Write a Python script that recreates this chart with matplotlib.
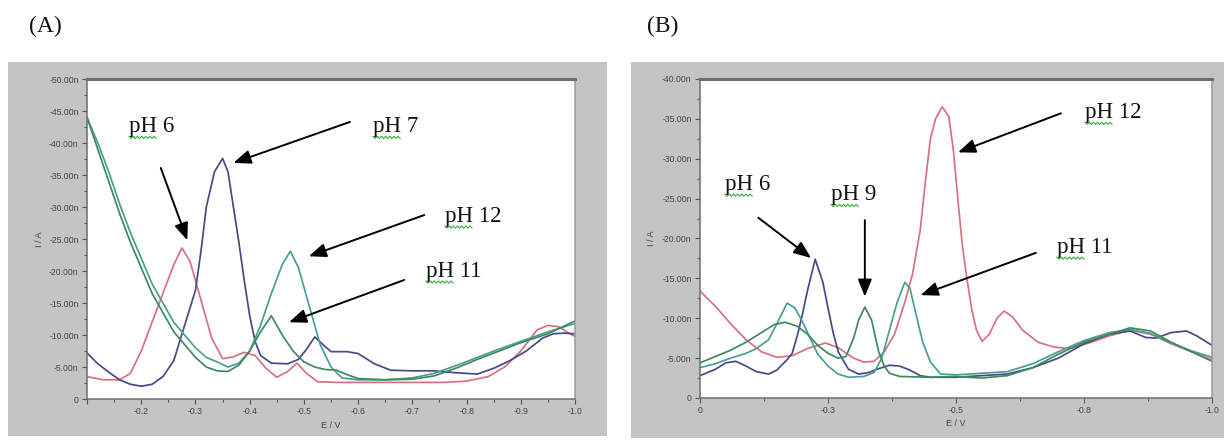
import numpy as np
import matplotlib
matplotlib.use("Agg")
import matplotlib.pyplot as plt
import matplotlib.transforms as mtransforms
from matplotlib.patches import Rectangle
from matplotlib.ticker import FixedLocator, MultipleLocator, FuncFormatter

# =============================================
# DATA  (E in V, current magnitude in nA)
# =============================================
# --- panel (A)
a_e_ph6 = [-0.10, -0.13, -0.16, -0.18, -0.20, -0.22, -0.24, -0.26, -0.275, -0.29, -0.31, -0.33,
           -0.35, -0.37, -0.39, -0.41, -0.43, -0.45, -0.47, -0.487, -0.505, -0.525, -0.56, -0.60,
           -0.65, -0.70, -0.76, -0.80, -0.84, -0.87, -0.90, -0.93, -0.95, -0.97, -0.99, -1.00]
a_i_ph6 = [3.5, 3.0, 3.0, 4.0, 7.5, 12.0, 16.5, 21.0, 23.6, 21.5, 15.5, 9.5,
           6.3, 6.6, 7.3, 6.8, 4.8, 3.4, 4.3, 5.6, 4.0, 2.7, 2.6, 2.6,
           2.6, 2.6, 2.6, 2.8, 3.5, 5.0, 7.5, 10.8, 11.5, 11.3, 10.2, 9.8]

a_e_ph7 = [-0.10, -0.12, -0.14, -0.16, -0.18, -0.20, -0.22, -0.24, -0.26, -0.28, -0.30, -0.31,
           -0.32, -0.335, -0.35, -0.36, -0.37, -0.38, -0.39, -0.40, -0.41, -0.42, -0.44, -0.47,
           -0.49, -0.505, -0.52, -0.535, -0.55, -0.58, -0.60, -0.63, -0.66, -0.70, -0.74, -0.78,
           -0.82, -0.85, -0.88, -0.91, -0.94, -0.96, -0.98, -1.00]
a_i_ph7 = [7.2, 5.5, 4.2, 3.0, 2.3, 2.0, 2.3, 3.5, 6.0, 11.5, 17.0, 23.0,
           30.0, 35.5, 37.6, 35.5, 30.0, 24.5, 18.5, 13.0, 9.0, 6.8, 5.6, 5.5,
           6.2, 7.8, 9.7, 8.5, 7.4, 7.4, 7.1, 5.5, 4.5, 4.4, 4.4, 4.1,
           3.9, 4.8, 6.0, 7.5, 9.5, 10.2, 10.3, 10.2]

a_e_ph12 = [-0.10, -0.12, -0.14, -0.16, -0.18, -0.20, -0.22, -0.24, -0.26, -0.28, -0.30, -0.32,
            -0.34, -0.36, -0.38, -0.40, -0.42, -0.44, -0.46, -0.475, -0.49, -0.51, -0.53, -0.55,
            -0.57, -0.60, -0.65, -0.70, -0.74, -0.78, -0.82, -0.86, -0.90, -0.95, -1.00]
a_i_ph12 = [44.0, 40.0, 35.5, 30.5, 26.0, 22.0, 18.0, 15.0, 12.0, 10.0, 8.0, 6.5,
            5.8, 5.0, 5.6, 7.5, 11.5, 16.5, 21.0, 23.1, 20.5, 14.5, 8.5, 5.0,
            3.3, 3.0, 3.0, 3.3, 4.0, 5.2, 6.5, 7.8, 9.0, 10.5, 11.8]

a_e_ph11 = [-0.10, -0.12, -0.14, -0.16, -0.18, -0.20, -0.22, -0.24, -0.26, -0.28, -0.30, -0.32,
            -0.34, -0.36, -0.38, -0.40, -0.42, -0.44, -0.46, -0.48, -0.50, -0.52, -0.54, -0.56,
            -0.58, -0.60, -0.65, -0.70, -0.74, -0.78, -0.82, -0.86, -0.90, -0.95, -1.00]
a_i_ph11 = [44.0, 39.0, 34.0, 29.0, 24.5, 20.5, 16.5, 13.5, 10.5, 8.5, 6.5, 5.0,
            4.4, 4.3, 5.3, 7.5, 10.5, 13.0, 10.0, 7.5, 5.8, 5.0, 4.6, 4.5,
            3.8, 3.2, 3.0, 3.1, 3.6, 4.8, 6.2, 7.5, 8.8, 10.2, 12.2]

# --- panel (B)
b_e_ph12 = [0.0, -0.03, -0.06, -0.09, -0.12, -0.15, -0.18, -0.21, -0.245, -0.27, -0.30, -0.32,
            -0.34, -0.36, -0.38, -0.40, -0.415, -0.43, -0.44, -0.45, -0.46, -0.473, -0.486, -0.495,
            -0.505, -0.512, -0.52, -0.531, -0.54, -0.551, -0.565, -0.58, -0.594, -0.61, -0.63, -0.66,
            -0.69, -0.72, -0.76, -0.80, -0.84, -0.88, -0.92, -0.96, -1.00]
b_i_ph12 = [13.4, 11.5, 9.3, 7.3, 5.8, 5.1, 5.3, 6.2, 6.9, 6.3, 5.0, 4.5,
            4.6, 5.8, 8.0, 12.0, 15.5, 21.0, 27.0, 32.5, 35.0, 36.5, 35.3, 31.0,
            24.0, 19.4, 15.5, 11.0, 8.5, 7.1, 8.0, 10.0, 10.9, 10.2, 8.5, 7.0,
            6.4, 6.2, 6.9, 7.8, 8.5, 8.0, 6.8, 5.8, 4.8]

b_e_ph6 = [0.0, -0.03, -0.05, -0.07, -0.09, -0.11, -0.134, -0.15, -0.17, -0.18, -0.19, -0.20,
           -0.21, -0.225, -0.24, -0.25, -0.26, -0.27, -0.29, -0.31, -0.33, -0.35, -0.37, -0.39,
           -0.41, -0.43, -0.45, -0.50, -0.55, -0.60, -0.65, -0.70, -0.75, -0.80, -0.84, -0.87,
           -0.89, -0.92, -0.95, -0.97, -1.00]
b_i_ph6 = [2.8, 3.6, 4.4, 4.6, 4.0, 3.3, 3.0, 3.5, 4.8, 5.6, 7.8, 10.5,
           13.5, 17.4, 14.5, 11.3, 8.2, 5.8, 3.6, 3.0, 3.2, 3.7, 4.1, 4.0,
           3.5, 2.8, 2.6, 2.6, 2.8, 3.0, 3.8, 5.0, 6.8, 8.0, 8.4, 7.6,
           7.5, 8.2, 8.4, 7.8, 6.6]

b_e_ph11 = [0.0, -0.03, -0.06, -0.09, -0.11, -0.134, -0.15, -0.17, -0.185, -0.20, -0.215, -0.23,
            -0.25, -0.27, -0.29, -0.32, -0.34, -0.355, -0.37, -0.385, -0.40, -0.41, -0.42, -0.435,
            -0.45, -0.47, -0.50, -0.55, -0.60, -0.65, -0.70, -0.75, -0.80, -0.84, -0.88, -0.92,
            -0.96, -1.00]
b_i_ph11 = [3.8, 4.3, 5.0, 5.6, 6.2, 7.3, 9.3, 11.9, 11.3, 9.6, 7.5, 5.5,
            4.0, 3.0, 2.6, 2.7, 3.2, 5.0, 8.5, 12.0, 14.5, 13.8, 11.0, 7.0,
            4.5, 3.0, 2.9, 3.1, 3.3, 4.3, 5.8, 7.2, 8.2, 8.6, 8.1, 6.9,
            5.9, 5.1]

b_e_ph9 = [0.0, -0.03, -0.06, -0.09, -0.12, -0.145, -0.166, -0.19, -0.21, -0.23, -0.25, -0.27,
           -0.285, -0.30, -0.31, -0.322, -0.335, -0.349, -0.36, -0.37, -0.39, -0.45, -0.50, -0.55,
           -0.60, -0.65, -0.70, -0.75, -0.80, -0.84, -0.88, -0.92, -0.96, -1.00]
b_i_ph9 = [4.4, 5.2, 6.0, 7.0, 8.2, 9.2, 9.5, 9.0, 8.0, 6.6, 5.6, 5.0,
           5.2, 7.5, 9.8, 11.4, 9.8, 5.8, 4.0, 3.1, 2.7, 2.6, 2.7, 2.5,
           2.8, 3.8, 5.5, 7.0, 8.0, 8.8, 8.4, 7.0, 5.8, 4.6]

# tick labels
a_yticks = [0, -5, -10, -15, -20, -25, -30, -35, -40, -45, -50]
b_yticks = [0, -5, -10, -15, -20, -25, -30, -35, -40]
a_xticks = [-0.1, -0.2, -0.3, -0.4, -0.5, -0.6, -0.7, -0.8, -0.9, -1.0]
a_xlabels = ["", "-0.2", "-0.3", "-0.4", "-0.5", "-0.6", "-0.7", "-0.8", "-0.9", "-1.0"]
b_xticks = [0.0, -0.25, -0.5, -0.75, -1.0]
b_xlabels = ["0", "-0.3", "-0.5", "-0.8", "-1.0"]

# annotation labels
a_labels = ["pH 6", "pH 7", "pH 12", "pH 11"]
b_labels = ["pH 6", "pH 9", "pH 12", "pH 11"]

# =============================================
# STYLE
# =============================================
RED = "#d9707f"
NAVY = "#474a86"
TEAL = "#4a9e98"
GREEN = "#3e8a5e"
GRAY_BG = "#c4c4c4"
TICK_C = "#555555"
SERIF = ["Liberation Serif", "DejaVu Serif"]

fig = plt.figure(figsize=(12.24, 4.43), dpi=100)

# gray frames behind each plot
fig.add_artist(Rectangle((0.0065, 0.0158), 0.4894, 0.8442, transform=fig.transFigure,
                         facecolor=GRAY_BG, edgecolor="none", zorder=0))
fig.add_artist(Rectangle((0.5155, 0.0113), 0.4845, 0.8488, transform=fig.transFigure,
                         facecolor=GRAY_BG, edgecolor="none", zorder=0))

ax_a = fig.add_axes([0.0711, 0.0993, 0.3987, 0.7223])
ax_b = fig.add_axes([0.5719, 0.1016, 0.4183, 0.7201])


def yfmt(v, pos):
    if abs(v) < 1e-9:
        return "0"
    return f"{v:.2f}n"


def style_axes(ax, yticks, xticks, xlabels, xminor):
    ax.set_facecolor("white")
    ax.set_zorder(2)
    ax.yaxis.set_major_locator(FixedLocator(yticks))
    ax.yaxis.set_minor_locator(MultipleLocator(2.5))
    ax.yaxis.set_major_formatter(FuncFormatter(yfmt))
    ax.set_xticks(xticks)
    ax.set_xticklabels(xlabels)
    ax.xaxis.set_minor_locator(MultipleLocator(xminor))
    ax.tick_params(which="both", direction="out", colors=TICK_C, labelsize=6.2,
                   width=0.8)
    ax.tick_params(which="major", length=3.5, pad=2.5)
    ax.tick_params(which="minor", length=2)
    for lab in ax.get_xticklabels() + ax.get_yticklabels():
        lab.set_family("Liberation Sans")
        lab.set_color("#444444")
    for name, sp in ax.spines.items():
        sp.set_color("#6e6e6e")
        sp.set_linewidth(1.1)
    ax.spines["top"].set_linewidth(2.2)
    ax.spines["right"].set_color("#9a9a9a")
    ax.set_xlabel("E / V", fontsize=6.5, color="#444444", family="Liberation Sans", labelpad=3)
    ax.set_ylabel("I / A", fontsize=6.5, color="#444444", family="Liberation Sans", labelpad=4)


def squiggle(ax, x, y, width_pt=20.0):
    # green spell-check wave under "pH"
    xs = np.arange(0, width_pt + 0.01, 1.5)
    ys = np.where(np.arange(len(xs)) % 2 == 0, -3.0, -4.6)
    t = (mtransforms.Affine2D().scale(fig.dpi / 72.0)
         + mtransforms.ScaledTranslation(x, y, ax.transData))
    ax.plot(xs, ys, color="#3cab3c", lw=0.8, transform=t, clip_on=False, zorder=6)


def label(ax, text, x, y):
    ax.text(x, y, text, fontsize=16.5, family=SERIF, va="baseline", ha="left",
            color="#111111", zorder=6, clip_on=False)
    squiggle(ax, x, y)


def arrow(ax, tail, head):
    ax.annotate("", xy=head, xytext=tail, zorder=6,
                arrowprops=dict(arrowstyle="-|>,head_length=0.7,head_width=0.28",
                                mutation_scale=15, lw=1.4, color="black",
                                shrinkA=0, shrinkB=0))


# =============================================
# PANEL (A)
# =============================================
lw = 1.25
ax_a.plot(a_e_ph6, -np.array(a_i_ph6), color=RED, lw=lw)
ax_a.plot(a_e_ph7, -np.array(a_i_ph7), color=NAVY, lw=lw)
ax_a.plot(a_e_ph12, -np.array(a_i_ph12), color=TEAL, lw=lw)
ax_a.plot(a_e_ph11, -np.array(a_i_ph11), color=GREEN, lw=lw)
ax_a.set_xlim(-0.1, -1.0)
ax_a.set_ylim(0, -50)
style_axes(ax_a, a_yticks, a_xticks, a_xlabels, 0.05)

label(ax_a, a_labels[0], -0.1775, -41.7)
label(ax_a, a_labels[1], -0.6275, -41.7)
label(ax_a, a_labels[2], -0.760, -27.7)
label(ax_a, a_labels[3], -0.725, -19.1)
arrow(ax_a, (-0.236, -36.1), (-0.285, -24.8))
arrow(ax_a, (-0.585, -43.3), (-0.370, -36.9))
arrow(ax_a, (-0.722, -28.75), (-0.509, -22.3))
arrow(ax_a, (-0.685, -18.6), (-0.4725, -12.0))

# =============================================
# PANEL (B)
# =============================================
ax_b.plot(b_e_ph12, -np.array(b_i_ph12), color=RED, lw=lw)
ax_b.plot(b_e_ph6, -np.array(b_i_ph6), color=NAVY, lw=lw)
ax_b.plot(b_e_ph11, -np.array(b_i_ph11), color=TEAL, lw=lw)
ax_b.plot(b_e_ph9, -np.array(b_i_ph9), color=GREEN, lw=lw)
ax_b.set_xlim(0.0, -1.0)
ax_b.set_ylim(0, -40)
style_axes(ax_b, b_yticks, b_xticks, b_xlabels, 0.125)

label(ax_b, b_labels[0], -0.049, -26.1)
label(ax_b, b_labels[1], -0.256, -24.8)
label(ax_b, b_labels[2], -0.752, -35.1)
label(ax_b, b_labels[3], -0.697, -18.2)
arrow(ax_b, (-0.114, -22.6), (-0.217, -17.55))
arrow(ax_b, (-0.322, -22.3), (-0.322, -12.7))
arrow(ax_b, (-0.705, -35.7), (-0.504, -30.8))
arrow(ax_b, (-0.656, -18.2), (-0.431, -12.9))

# panel letters
fig.text(29 / 1224, 1 - 32 / 443, "(A)", fontsize=17, family=SERIF, color="#111111")
fig.text(647 / 1224, 1 - 32 / 443, "(B)", fontsize=17, family=SERIF, color="#111111")

fig.savefig("out.png", dpi=100)
